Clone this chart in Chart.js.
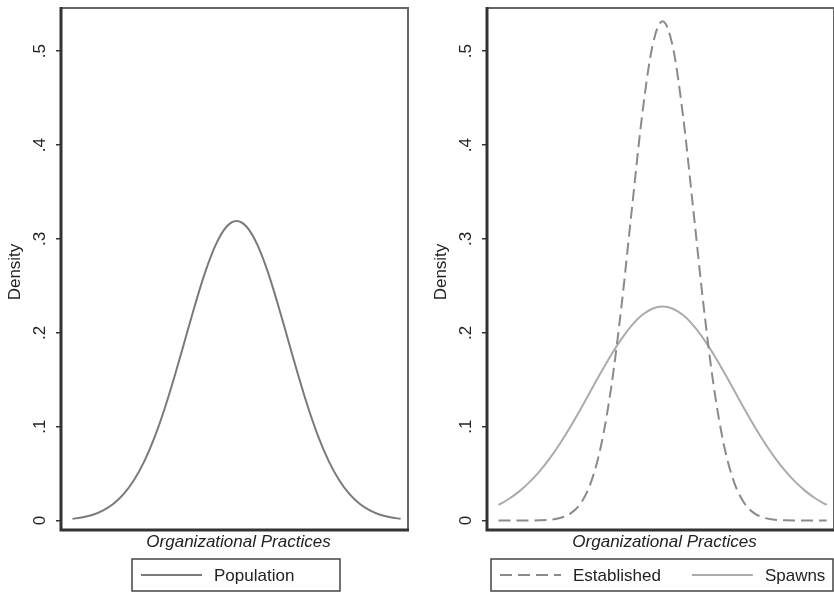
<!DOCTYPE html>
<html>
<head>
<meta charset="utf-8">
<script src="https://cdn.jsdelivr.net/npm/chart.js@4/dist/chart.umd.min.js"></script>
<style>
  html, body { margin: 0; padding: 0; background: #fff; overflow: hidden; }
  .panel { position: absolute; top: 0; width: 417px; height: 592px; }
</style>
</head>
<body>
<div class="panel" style="left:0"><canvas id="leftChart"></canvas></div>
<div class="panel" style="left:426px"><canvas id="rightChart"></canvas></div>
<script>
// Organizational practices (standardised)
const xValues = [-4, -3.75, -3.5, -3.25, -3, -2.75, -2.5, -2.25, -2, -1.75, -1.5, -1.25, -1, -0.75, -0.5, -0.25,
  0, 0.25, 0.5, 0.75, 1, 1.25, 1.5, 1.75, 2, 2.25, 2.5, 2.75, 3, 3.25, 3.5, 3.75, 4]

const populationValues = [0.0019, 0.0035, 0.0063, 0.0109, 0.0179, 0.0284, 0.0432, 0.0631, 0.0887, 0.1197, 0.1553,
  0.1935, 0.2316, 0.2665, 0.2945, 0.3127, 0.3190, 0.3127, 0.2945, 0.2665, 0.2316, 0.1935, 0.1553, 0.1197, 0.0887,
  0.0631, 0.0432, 0.0284, 0.0179, 0.0109, 0.0063, 0.0035, 0.0019]

const establishedValues = [0, 0, 0, 0.0001, 0.0003, 0.0009, 0.0027, 0.0075, 0.0182, 0.0402, 0.0798, 0.1425, 0.2289,
  0.3311, 0.4309, 0.5047, 0.5320, 0.5047, 0.4309, 0.3311, 0.2289, 0.1425, 0.0798, 0.0402, 0.0182, 0.0075, 0.0027,
  0.0009, 0.0003, 0.0001, 0, 0, 0]

const spawnsValues = [0.0167, 0.0230, 0.0309, 0.0407, 0.0525, 0.0663, 0.0822, 0.0998, 0.1187, 0.1383, 0.1579,
  0.1767, 0.1936, 0.2080, 0.2189, 0.2257, 0.2280, 0.2257, 0.2189, 0.2080, 0.1936, 0.1767, 0.1579, 0.1383, 0.1187,
  0.0998, 0.0822, 0.0663, 0.0525, 0.0407, 0.0309, 0.0230, 0.0167]

const yTicks = [0, 0.1, 0.2, 0.3, 0.4, 0.5]
const yTickLabels = ["0", ".1", ".2", ".3", ".4", ".5"]
const xTitle = "Organizational Practices"
const yTitle = "Density"

const FONT = '"Liberation Sans", Arial, Helvetica, sans-serif'

const toPoints = (vals) => xValues.map((x, i) => ({ x: x, y: vals[i] }))

// frame, rotated tick labels, axis titles and the boxed Stata-like legend
const stataDecor = {
  id: "stataDecor",
  afterDraw(chart, args, opts) {
    const { ctx, chartArea: a } = chart
    const y = chart.scales.y
    ctx.save()

    ctx.strokeStyle = "#666"
    ctx.lineWidth = 2
    ctx.beginPath()
    ctx.moveTo(a.left, a.top)
    ctx.lineTo(a.right, a.top)
    ctx.lineTo(a.right, a.bottom)
    ctx.stroke()
    ctx.strokeStyle = "#333"
    ctx.lineWidth = 3
    ctx.beginPath()
    ctx.moveTo(a.left, a.top - 1)
    ctx.lineTo(a.left, a.bottom)
    ctx.lineTo(a.right + 1, a.bottom)
    ctx.stroke()

    ctx.fillStyle = "#222"
    ctx.font = "17px " + FONT
    ctx.textAlign = "center"
    ctx.textBaseline = "middle"
    yTicks.forEach((v, i) => {
      ctx.save()
      ctx.translate(a.left - 21, y.getPixelForValue(v))
      ctx.rotate(-Math.PI / 2)
      ctx.fillText(yTickLabels[i], 0, 0)
      ctx.restore()
    })
    ctx.save()
    ctx.translate(a.left - 46, (a.top + a.bottom) / 2 + 3)
    ctx.rotate(-Math.PI / 2)
    ctx.fillText(yTitle, 0, 0)
    ctx.restore()

    const cx = (a.left + a.right) / 2
    ctx.font = "italic 17px " + FONT
    ctx.fillText(xTitle, cx + 4, a.bottom + 12)

    // legend
    const boxW = opts.legendWidth
    const boxL = cx - boxW / 2 + 1.5
    const boxT = a.bottom + 29
    const boxH = 32
    ctx.strokeStyle = "#444"
    ctx.lineWidth = 1.5
    ctx.strokeRect(boxL, boxT, boxW, boxH)
    const midY = boxT + boxH / 2
    ctx.font = "17px " + FONT
    ctx.textAlign = "left"
    let lx = boxL + 9
    chart.data.datasets.forEach((ds) => {
      ctx.strokeStyle = ds.borderColor
      ctx.lineWidth = ds.borderWidth
      ctx.setLineDash(ds.borderDash || [])
      ctx.beginPath()
      ctx.moveTo(lx, midY)
      ctx.lineTo(lx + 61, midY)
      ctx.stroke()
      ctx.setLineDash([])
      ctx.fillStyle = "#222"
      ctx.fillText(ds.label, lx + 73, midY + 1)
      lx += 73 + ctx.measureText(ds.label).width + 31
    })
    ctx.restore()
  },
}

function makeChart(id, datasets, legendWidth) {
  return new Chart(document.getElementById(id), {
    type: "line",
    data: { datasets: datasets },
    options: {
      responsive: true,
      maintainAspectRatio: false,
      animation: false,
      layout: { padding: { left: 56, right: 9, top: 8, bottom: 62 } },
      elements: { point: { radius: 0 }, line: { cubicInterpolationMode: "monotone" } },
      plugins: {
        legend: { display: false },
        tooltip: { enabled: false },
        stataDecor: { legendWidth: legendWidth },
      },
      scales: {
        x: { type: "linear", min: -4.28, max: 4.18, display: false },
        y: {
          min: -0.01,
          max: 0.546,
          afterBuildTicks: (s) => { s.ticks = yTicks.map((v) => ({ value: v })) },
          ticks: { display: false },
          border: { display: false },
          grid: { drawOnChartArea: false, drawTicks: true, tickLength: 5, color: "#333", lineWidth: 1.5 },
        },
      },
    },
    plugins: [stataDecor],
  })
}

makeChart("leftChart", [
  { label: "Population", data: toPoints(populationValues), borderColor: "#7a7a7a", borderWidth: 2, fill: false },
], 208)

makeChart("rightChart", [
  { label: "Established", data: toPoints(establishedValues), borderColor: "#8a8a8a", borderWidth: 2,
    borderDash: [12, 6], fill: false },
  { label: "Spawns", data: toPoints(spawnsValues), borderColor: "#ababab", borderWidth: 2, fill: false },
], 342)
</script>
</body>
</html>
